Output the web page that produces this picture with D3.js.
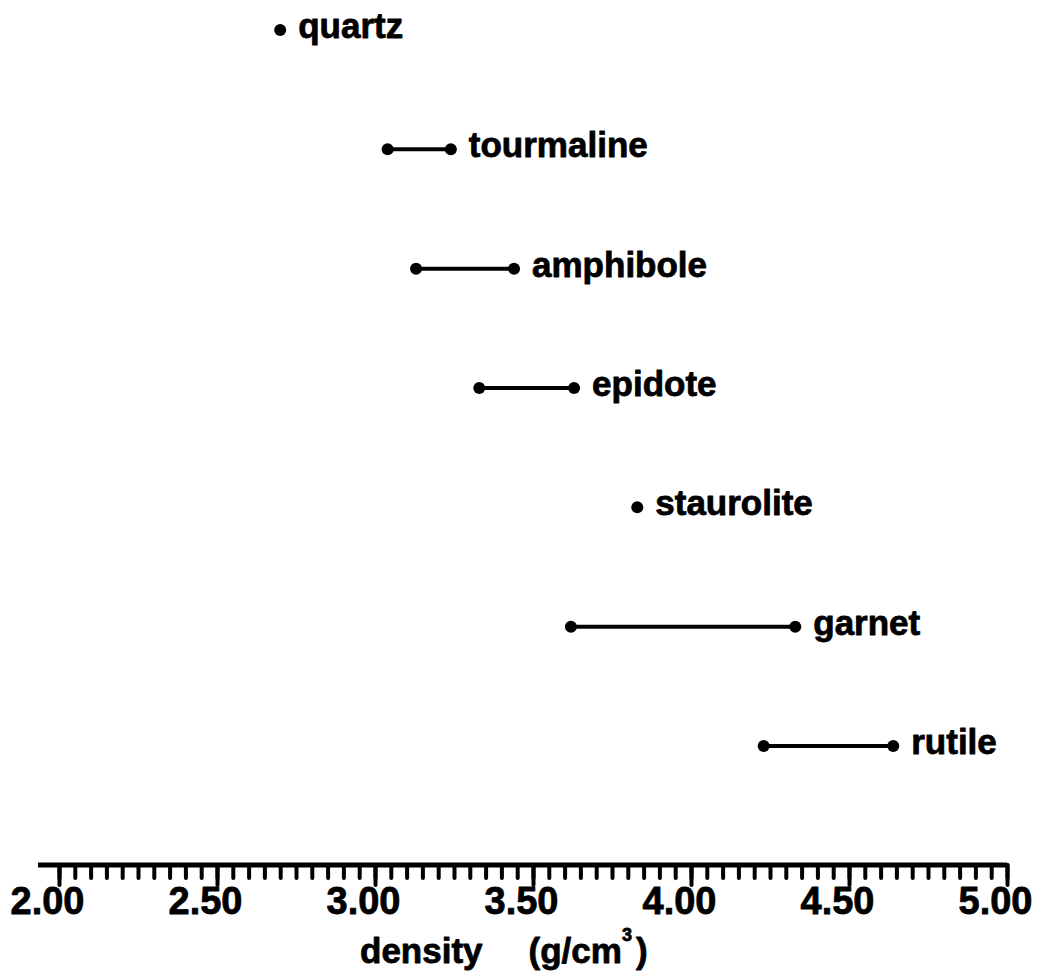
<!DOCTYPE html>
<meta charset="utf-8">
<script src="https://d3js.org/d3.v7.min.js"></script>
<style>
    body { background: #fff; margin: 0; }
    svg { display: block; }
    text { font-family: "Liberation Sans", Arial, sans-serif; font-weight: bold; fill: #000; stroke: #000; stroke-width: 0.8px; stroke-linejoin: round; }
</style>
<svg width="1051" height="976"></svg>
<script>
    // density ranges of heavy minerals (g/cm3)
    const minerals = ["quartz", "tourmaline", "amphibole", "epidote", "staurolite", "garnet", "rutile"];
    const densMin = [2.70, 3.04, 3.13, 3.33, 3.83, 3.62, 4.23];
    const densMax = [2.70, 3.24, 3.44, 3.63, 3.83, 4.33, 4.64];
    const majorTicks = [2.00, 2.50, 3.00, 3.50, 4.00, 4.50, 5.00];

    const svg = d3.select("svg");
    const x = d3.scaleLinear().domain([2, 5]).range([59, 1007]);
    const y = d3.scalePoint().domain(minerals).range([30, 746]);
    const axisY = 865;

    const rows = minerals.map((m, i) => ({ name: m, lo: densMin[i], hi: densMax[i] }));

    // range lines
    svg.append("g").selectAll("line")
        .data(rows.filter(d => d.hi > d.lo))
        .enter().append("line")
        .attr("x1", d => x(d.lo)).attr("x2", d => x(d.hi))
        .attr("y1", d => y(d.name)).attr("y2", d => y(d.name))
        .attr("stroke", "#000").attr("stroke-width", 4);

    // end points
    const pts = rows.flatMap(d => d.hi > d.lo ? [{ name: d.name, v: d.lo }, { name: d.name, v: d.hi }] : [{ name: d.name, v: d.lo }]);
    svg.append("g").selectAll("circle")
        .data(pts)
        .enter().append("circle")
        .attr("cx", d => x(d.v)).attr("cy", d => y(d.name))
        .attr("r", 6).attr("fill", "#000");

    // labels
    svg.append("g").selectAll("text")
        .data(rows)
        .enter().append("text")
        .attr("x", d => x(d.hi) + 18)
        .attr("y", d => y(d.name) + 8)
        .attr("font-size", 35)
        .text(d => d.name);

    // axis: minor ticks every 0.05, major every 0.5
    const minor = svg.append("g").attr("transform", `translate(0,${axisY})`)
        .call(d3.axisBottom(x).tickValues(d3.range(0, 61).map(i => 2 + i * 0.05)).tickSize(13).tickFormat(""));
    const major = svg.append("g").attr("transform", `translate(0,${axisY})`)
        .call(d3.axisBottom(x).tickValues(majorTicks).tickSize(20).tickFormat(d3.format(".2f")));
    [minor, major].forEach(g => {
        g.select(".domain").remove();
        g.selectAll(".tick line").attr("stroke", "#000").attr("stroke-width", 4).attr("stroke-linecap", "round");
    });
    major.selectAll(".tick text")
        .attr("y", 49).attr("dy", 0).attr("dx", -12)
        .attr("font-size", 38).attr("font-family", null);

    svg.append("line")
        .attr("x1", x(2) - 21).attr("x2", x(5))
        .attr("y1", axisY).attr("y2", axisY)
        .attr("stroke", "#000").attr("stroke-width", 5);

    // axis title
    const title = svg.append("text").attr("x", x(3.5) - 173).attr("y", 963).attr("font-size", 35);
    title.append("tspan").text("density");
    title.append("tspan").attr("dx", 46).text("(g/cm");
    title.append("tspan").attr("dy", -22).attr("font-size", 18).text("3");
    title.append("tspan").attr("dy", 22).attr("dx", 4).text(")");
</script>
